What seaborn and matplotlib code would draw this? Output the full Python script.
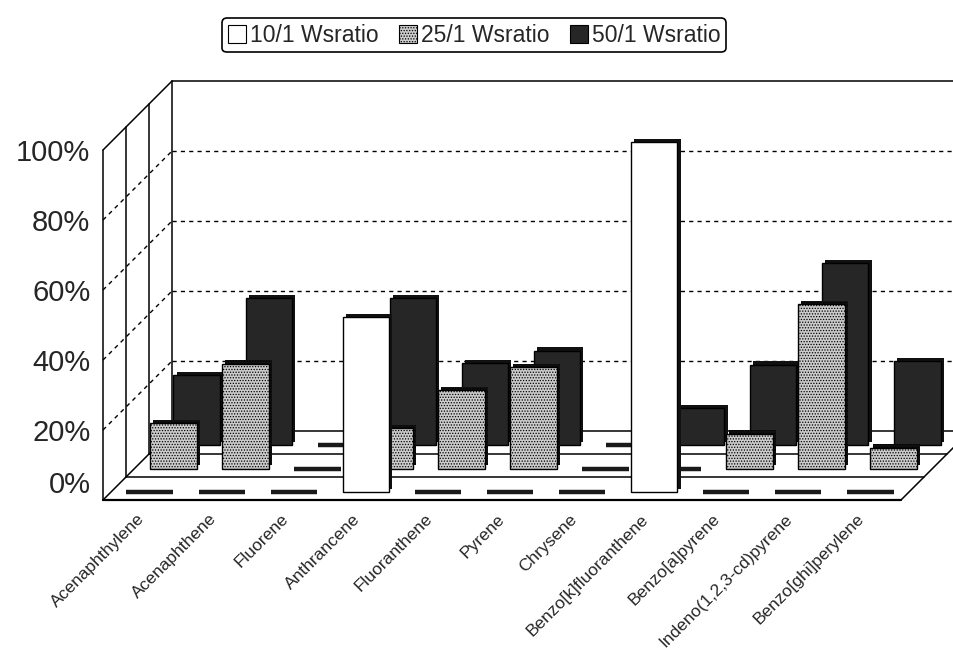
import numpy as np
import pandas as pd
import matplotlib
matplotlib.use("Agg")
import matplotlib.pyplot as plt
import seaborn as sns
from matplotlib.patches import Patch
from matplotlib.transforms import Affine2D, ScaledTranslation
import matplotlib.patheffects as pe

# ---------------- data ----------------
compounds = ["Acenaphthylene", "Acenaphthene", "Fluorene", "Anthrancene",
             "Fluoranthene", "Pyrene", "Chrysene", "Benzo[k]fluoranthene",
             "Benzo[a]pyrene", "Indeno(1,2,3-cd)pyrene", "Benzo[ghi]perylene"]
series_names = ["10/1 Wsratio", "25/1 Wsratio", "50/1 Wsratio"]
ws10 = [0, 0, 0, 50, 0, 0, 0, 100, 0, 0, 0]
ws25 = [13, 30, 0, 11.5, 22.5, 29, 0, 0, 10, 47, 6]
ws50 = [20, 42, 0, 42, 23.5, 27, 0, 10.5, 23, 52, 24]
yticks = [0, 20, 40, 60, 80, 100]
ytick_labels = ["0%", "20%", "40%", "60%", "80%", "100%"]

df = pd.DataFrame({
    "compound": compounds * 3,
    "series": np.repeat(series_names, len(compounds)),
    "value": ws10 + ws25 + ws50,
})

# ---------------- style ----------------
sns.set_theme(style="white")
plt.rcParams["font.family"] = ["Liberation Sans", "DejaVu Sans"]
plt.rcParams["hatch.linewidth"] = 0.6

W, H = 954, 654
fig = plt.figure(figsize=(W / 100, H / 100), dpi=100)
AX_L, AX_R, AX_B, AX_T = 103, 901, 500, 150
ax = fig.add_axes([AX_L / W, (H - AX_B) / H, (AX_R - AX_L) / W, (AX_B - AX_T) / H])

XMIN, XMAX = -0.54, 10.54
PX_X = (XMAX - XMIN) / (AX_R - AX_L)
PX_Y = 100.0 / (AX_B - AX_T)
DEPTH = 69
dxD, dyD = DEPTH * PX_X, DEPTH * PX_Y
XR = XMIN + (W - AX_L) * PX_X  # right edge of figure in data units

styles = {
    "50/1 Wsratio": dict(face="#262626", hatch=None, off=55, z=3),
    "25/1 Wsratio": dict(face="#cbcbcb", hatch="......", off=31.5, z=4),
    "10/1 Wsratio": dict(face="white", hatch=None, off=8, z=5),
}

for name in ["50/1 Wsratio", "25/1 Wsratio", "10/1 Wsratio"]:
    st = styles[name]
    n0 = len(ax.patches)
    sns.barplot(data=df[df.series == name], x="compound", y="value", order=compounds,
                color=st["face"], saturation=1, width=0.65, edgecolor="black",
                linewidth=1.0, ax=ax, zorder=st["z"])
    tr = Affine2D().translate(st["off"] * PX_X, st["off"] * PX_Y) + ax.transData
    for p in ax.patches[n0:]:
        p.set_transform(tr)
        p.set_zorder(st["z"])
        p.set_clip_on(False)
        if st["hatch"]:
            p.set_hatch(st["hatch"])
        if p.get_height() == 0:
            p.set_linewidth(3.2)
            p.set_edgecolor("#1a1a1a")
        else:
            p.set_path_effects([pe.SimplePatchShadow(offset=(2.2, 2.2), shadow_rgbFace="#111111", alpha=1.0),
                                pe.Normal()])

ax.set_xlim(XMIN, XMAX)
ax.set_ylim(0, 100)

# ---------------- walls & floor ----------------
lk = dict(color="black", lw=1.1, clip_on=False, zorder=1)
dk = dict(color="black", lw=1.0, ls=(0, (3, 3)), clip_on=False, zorder=1)

# floor
ax.plot([XMIN, XMAX], [0, 0], color="black", lw=1.6, clip_on=False, zorder=1)
for k in (1, 2):
    ax.plot([XMIN + k * dxD / 3, XMAX + k * dxD / 3], [k * dyD / 3, k * dyD / 3], **lk)
ax.plot([XMIN + dxD, XR], [dyD, dyD], **lk)
ax.plot([XMIN, XMIN + dxD], [0, dyD], **lk)
ax.plot([XMAX, XMAX + dxD], [0, dyD], **lk)

# side wall
ax.plot([XMIN, XMIN], [0, 100], **lk)
ax.plot([XMIN, XMIN + dxD], [100, 100 + dyD], **lk)
for k in (1, 2, 3):
    ax.plot([XMIN + k * dxD / 3] * 2, [k * dyD / 3, 100 + k * dyD / 3], **lk)

# back wall top
ax.plot([XMIN + dxD, XR], [100 + dyD, 100 + dyD], **lk)

# gridlines
for v in yticks[1:-1]:
    ax.plot([XMIN, XMIN + dxD], [v, v + dyD], **dk)
    ax.plot([XMIN + dxD, XR], [v + dyD, v + dyD], **dk)

# ---------------- axes text ----------------
ax.set_xlabel("")
ax.set_ylabel("")
ax.grid(False)
for s in ax.spines.values():
    s.set_visible(False)
ax.set_xticks(range(len(compounds)))
ax.set_xticklabels(compounds, rotation=45, ha="right", va="center",
                   rotation_mode="anchor", fontsize=12.5)
ax.tick_params(axis="x", length=0, pad=12)
ax.set_yticks(yticks)
ax.set_yticklabels(ytick_labels, fontsize=21)
ax.tick_params(axis="y", length=0, pad=9)
lab0 = ax.get_yticklabels()[0]
lab0.set_transform(lab0.get_transform() + ScaledTranslation(0, 18 / 100, fig.dpi_scale_trans))

# ---------------- legend ----------------
handles = [Patch(facecolor=styles[n]["face"], edgecolor="black", hatch=styles[n]["hatch"], lw=0.8)
           for n in series_names]
leg = fig.legend(handles, series_names, loc="upper center", bbox_to_anchor=(0.497, 0.99),
                 ncol=3, frameon=True, fancybox=True, edgecolor="black", fontsize=16.5,
                 handlelength=0.8, handleheight=0.8, handletextpad=0.15,
                 columnspacing=0.9, borderpad=0.25)
leg.get_frame().set_linewidth(1.2)
leg.get_frame().set_alpha(1)

fig.savefig("out.png", dpi=100)
